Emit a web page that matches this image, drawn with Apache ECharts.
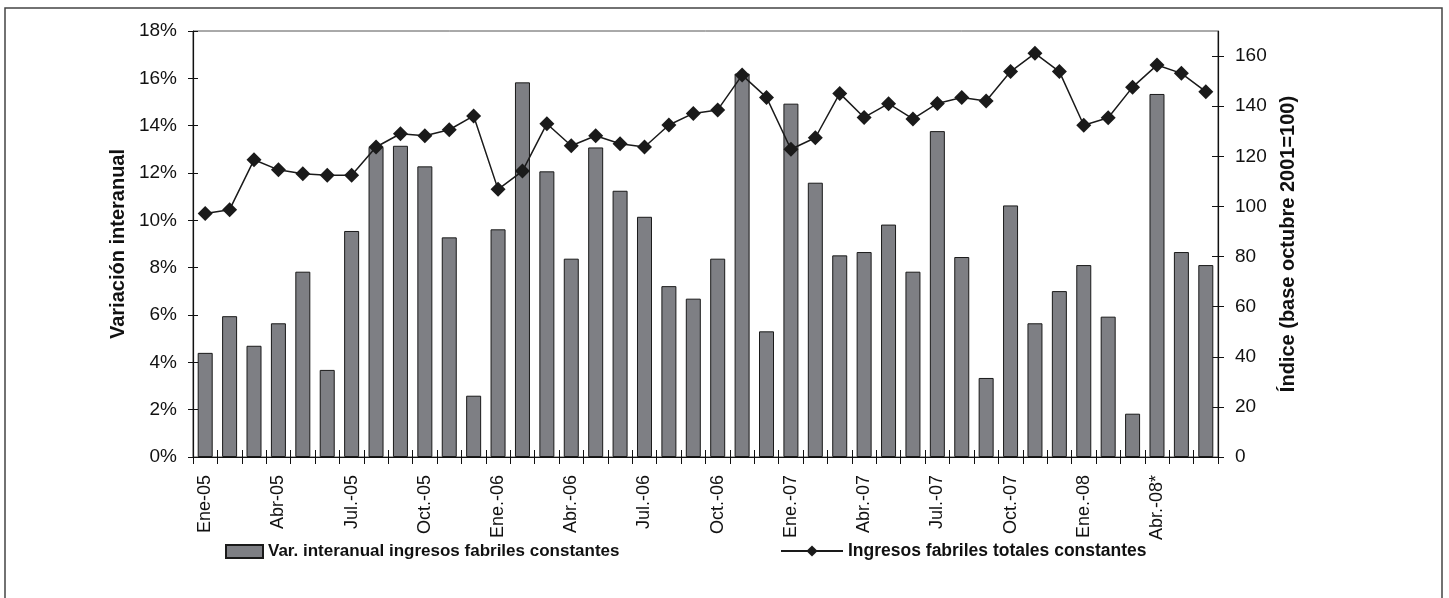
<!DOCTYPE html>
<html>
<head>
<meta charset="utf-8">
<title>Ingresos fabriles</title>
<script src="https://cdn.jsdelivr.net/npm/echarts@6/dist/echarts.min.js"></script>
<style>
  html, body { margin: 0; padding: 0; background: #fff; }
  #chart-box { width: 1449px; height: 598px; }
</style>
</head>
<body>
<div id="chart-box"></div>
<script>
// meses ene-05 .. jun-08
var months = [
  'Ene-05', 'Feb-05', 'Mar-05', 'Abr-05', 'May-05', 'Jun-05',
  'Jul.-05', 'Ago.-05', 'Sep.-05', 'Oct.-05', 'Nov.-05', 'Dic.-05',
  'Ene.-06', 'Feb.-06', 'Mar.-06', 'Abr.-06', 'May.-06', 'Jun.-06',
  'Jul.-06', 'Ago.-06', 'Sep.-06', 'Oct.-06', 'Nov.-06', 'Dic.-06',
  'Ene.-07', 'Feb.-07', 'Mar.-07', 'Abr.-07', 'May.-07', 'Jun.-07',
  'Jul.-07', 'Ago.-07', 'Sep.-07', 'Oct.-07', 'Nov.-07', 'Dic.-07',
  'Ene.-08', 'Feb.-08', 'Mar.-08', 'Abr.-08*', 'May.-08', 'Jun.-08'
];
// variacion interanual (%)
var varInteranual = [
  4.4, 5.95, 4.7, 5.65, 7.83, 3.68,
  9.55, 13.1, 13.15, 12.28, 9.28, 2.59,
  9.62, 15.83, 12.07, 8.38, 13.08, 11.25,
  10.15, 7.22, 6.69, 8.38, 16.2, 5.31,
  14.93, 11.59, 8.52, 8.66, 9.82, 7.83,
  13.77, 8.45, 3.34, 10.63, 5.65, 7.01,
  8.11, 5.93, 1.83, 15.34, 8.66, 8.11
];
// indice base octubre 2001 = 100
var indiceIngresos = [
  97.2, 98.7, 118.6, 114.6, 113.0, 112.4,
  112.4, 123.7, 129.0, 128.2, 130.6, 136.1,
  106.8, 114.1, 133.0, 124.2, 128.2, 125.0,
  123.7, 132.5, 137.1, 138.5, 152.4, 143.5,
  122.8, 127.4, 145.1, 135.5, 141.0, 134.9,
  141.1, 143.5, 142.1, 153.8, 161.1, 153.8,
  132.4, 135.4, 147.6, 156.4, 153.1, 145.8
];
var leftTicks = [0, 2, 4, 6, 8, 10, 12, 14, 16, 18];
var rightTicks = [0, 20, 40, 60, 80, 100, 120, 140, 160];

var barName = 'Var. interanual ingresos fabriles constantes';
var lineName = 'Ingresos fabriles totales constantes';

var myChart = echarts.init(document.getElementById('chart-box'));
var font = 'Liberation Sans';

var option = {
  backgroundColor: '#fff',
  animation: false,
  textStyle: { fontFamily: font, color: '#111' },
  graphic: [{
    type: 'rect',
    shape: { x: 5, y: 8, width: 1437, height: 600 },
    style: { fill: 'none', stroke: '#444', lineWidth: 1.5 },
    silent: true
  }],
  grid: {
    left: 193, right: 231, top: 31, bottom: 141,
    show: true, borderColor: '#555', borderWidth: 1, backgroundColor: 'transparent'
  },
  legend: [{
    left: 220, top: 538,
    data: [barName],
    icon: 'rect',
    itemWidth: 37, itemHeight: 13,
    itemGap: 6,
    textStyle: { fontFamily: font, fontWeight: 'bold', fontSize: 17, color: '#111' }
  }, {
    left: 775, top: 537,
    data: [lineName],
    itemWidth: 62, itemHeight: 14,
    textStyle: { fontFamily: font, fontWeight: 'bold', fontSize: 17.5, color: '#111' }
  }],
  xAxis: [{
    type: 'category',
    data: months,
    boundaryGap: true,
    axisLine: { lineStyle: { color: '#111', width: 1.2 } },
    axisTick: { show: true, interval: 0, length: 7, lineStyle: { color: '#111' } },
    axisLabel: {
      interval: 2, rotate: 90, margin: 18,
      fontSize: 18, color: '#111', fontFamily: font
    },
    splitLine: { show: false }
  }, {
    // ticks hacia adentro
    type: 'category',
    data: months,
    position: 'bottom',
    boundaryGap: true,
    axisLine: { show: false },
    axisTick: { show: true, inside: true, interval: 0, length: 7, lineStyle: { color: '#111' } },
    axisLabel: { show: false },
    splitLine: { show: false }
  }],
  yAxis: [{
    type: 'value',
    position: 'left',
    min: 0, max: 18, interval: 2,
    name: 'Variación interanual',
    nameLocation: 'middle',
    nameGap: 63,
    nameRotate: 90,
    nameTextStyle: { fontFamily: font, fontWeight: 'bold', fontSize: 20, color: '#111' },
    axisLine: { show: true, lineStyle: { color: '#111', width: 1.2 } },
    axisTick: { show: true, length: 5, lineStyle: { color: '#111' }, customValues: leftTicks },
    axisLabel: {
      margin: 16, fontSize: 19, color: '#111', fontFamily: font,
      customValues: leftTicks,
      formatter: function (v) { return v + '%'; }
    },
    splitLine: { show: false }
  }, {
    type: 'value',
    position: 'right',
    min: 0, max: 170, interval: 20,
    name: 'Índice (base octubre 2001=100)',
    nameLocation: 'middle',
    nameGap: 60,
    nameRotate: 90,
    nameTextStyle: { fontFamily: font, fontWeight: 'bold', fontSize: 20, color: '#111' },
    axisLine: { show: true, lineStyle: { color: '#111', width: 1.2 } },
    axisTick: { show: true, length: 6, lineStyle: { color: '#111' }, customValues: rightTicks },
    axisLabel: {
      margin: 17, fontSize: 19, color: '#111', fontFamily: font,
      customValues: rightTicks
    },
    splitLine: { show: false }
  }, {
    // ticks internos izquierda
    type: 'value', position: 'left', offset: 0,
    min: 0, max: 18, interval: 2,
    axisLine: { show: false },
    axisTick: { show: true, inside: true, length: 5, lineStyle: { color: '#111' }, customValues: leftTicks },
    axisLabel: { show: false },
    splitLine: { show: false }
  }, {
    // ticks internos derecha
    type: 'value', position: 'right', offset: 0,
    min: 0, max: 170, interval: 20,
    axisLine: { show: false },
    axisTick: { show: true, inside: true, length: 6, lineStyle: { color: '#111' }, customValues: rightTicks },
    axisLabel: { show: false },
    splitLine: { show: false }
  }],
  series: [{
    name: barName,
    type: 'bar',
    xAxisIndex: 0,
    yAxisIndex: 0,
    data: varInteranual,
    barWidth: 15,
    itemStyle: { color: '#7e7f84', borderColor: '#1a1a1a', borderWidth: 1 },
    z: 2
  }, {
    name: lineName,
    type: 'line',
    xAxisIndex: 0,
    yAxisIndex: 1,
    data: indiceIngresos,
    symbol: 'diamond',
    symbolSize: 15,
    showAllSymbol: true,
    lineStyle: { color: '#1a1a1a', width: 1.5 },
    itemStyle: { color: '#1a1a1a' },
    z: 3
  }]
};

myChart.setOption(option);
window.onresize = function () {
  myChart.resize();
};
</script>
</body>
</html>
